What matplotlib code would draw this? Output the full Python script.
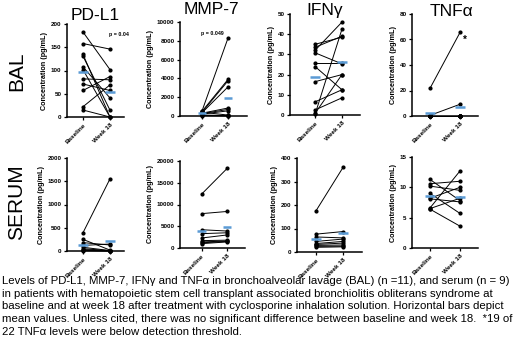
import numpy as np
import matplotlib
matplotlib.use("Agg")
import matplotlib.pyplot as plt

plt.rcParams['font.family'] = ['Liberation Sans', 'DejaVu Sans']

timepoints = ["Baseline", "Week 18"]

# BAL (n = 11), pairs: baseline -> week 18
bal_pdl1_base = [183, 158, 135, 131, 108, 102, 82, 71, 57, 22, 15]
bal_pdl1_wk18 = [102, 146, 0, 15, 41, 0, 80, 57, 87, 69, 0]

bal_mmp7_base = [550, 500, 400, 350, 300, 250, 200, 150, 100, 50, 400]
bal_mmp7_wk18 = [8300, 3900, 3750, 3100, 850, 700, 550, 150, 50, 0, 100]

bal_ifng_base = [35.0, 33.5, 32.0, 30.8, 25.7, 24.0, 16.5, 6.5, 2.5, 0.3, 0.8]
bal_ifng_wk18 = [38.5, 39.0, 46.0, 25.3, 25.7, 12.5, 20.0, 12.5, 8.5, 42.5, 20.0]

bal_tnfa_base = [21.7, 0.5, 0, 0, 0, 0, 0, 0, 0, 0, 0]
bal_tnfa_wk18 = [65.5, 9.2, 0, 0, 0, 0, 0, 0, 0, 0, 0]

# Serum (n = 9)
ser_pdl1_base = [390, 250, 180, 120, 80, 50, 30, 15, 5]
ser_pdl1_wk18 = [1550, 20, 130, 150, 10, 5, 5, 0, 0]

ser_mmp7_base = [12400, 7900, 4200, 3300, 2300, 1700, 1400, 1200, 1000]
ser_mmp7_wk18 = [18300, 8400, 3900, 3500, 3000, 1800, 1600, 1500, 1400]

ser_ifng_base = [175, 76, 64, 45, 36, 32, 28, 24, 20]
ser_ifng_wk18 = [360, 87, 60, 55, 45, 38, 30, 25, 22]

ser_tnfa_base = [11.3, 10.6, 10.2, 9.0, 8.2, 8.1, 6.6, 6.4, 6.5]
ser_tnfa_wk18 = [7.8, 11.0, 9.5, 5.7, 10.0, 7.6, 12.7, 3.6, 8.2]

W, H = 520, 355
fig = plt.figure(figsize=(W / 100, H / 100), dpi=100)

mean_color = '#5b9bd5'


def panel(box, base, wk, yticks, xlim):
    # box in pixels: left, right, top, bottom
    l, r, t, b = box
    ax = fig.add_axes([l / W, 1 - b / H, (r - l) / W, (b - t) / H])
    for y0, y1 in zip(base, wk):
        ax.plot([0, 1], [y0, y1], '-o', color='black', lw=0.7, ms=2.0, clip_on=False)
    for xi, vals in enumerate([base, wk]):
        m = np.mean(vals)
        ax.plot([xi - 0.17, xi + 0.17], [m, m], color=mean_color, lw=1.8,
                solid_capstyle='butt', zorder=5, clip_on=False)
    ax.set_xlim(*xlim)
    ax.set_ylim(yticks[0], yticks[-1])
    ax.set_yticks(yticks)
    ax.set_yticklabels([str(v) for v in yticks], fontsize=4.5, fontweight='bold')
    ax.set_xticks([0, 1])
    ax.set_xticklabels(timepoints, fontsize=4.6, fontweight='bold', rotation=45,
                       ha='right', rotation_mode='anchor')
    ax.set_ylabel("Concentration (pg/mL)", fontsize=5.2, fontweight='bold', labelpad=2)
    for s in ['top', 'right']:
        ax.spines[s].set_visible(False)
    for s in ['left', 'bottom']:
        ax.spines[s].set_linewidth(1.1)
    ax.tick_params(length=2.5, width=0.9, pad=1.5)
    ax.patch.set_alpha(0)
    return ax


a1 = panel((67, 124, 24, 117), bal_pdl1_base, bal_pdl1_wk18, list(range(0, 201, 50)), (-0.59, 1.52))
a2 = panel((180, 247, 22, 116), bal_mmp7_base, bal_mmp7_wk18, list(range(0, 10001, 2000)), (-0.85, 1.73))
a3 = panel((290, 360, 14, 115), bal_ifng_base, bal_ifng_wk18, list(range(0, 51, 10)), (-0.93, 1.67))
a4 = panel((412, 478, 14, 116), bal_tnfa_base, bal_tnfa_wk18, list(range(0, 81, 20)), (-0.6, 1.6))

b1 = panel((67, 124, 158, 251), ser_pdl1_base, ser_pdl1_wk18, list(range(0, 2001, 500)), (-0.59, 1.52))
b2 = panel((180, 245, 161, 248), ser_mmp7_base, ser_mmp7_wk18, list(range(0, 20001, 5000)), (-0.85, 1.7))
b3 = panel((297, 362, 158, 252), ser_ifng_base, ser_ifng_wk18, list(range(0, 401, 100)), (-0.7, 1.7))
b4 = panel((412, 478, 157, 248), ser_tnfa_base, ser_tnfa_wk18, list(range(0, 16, 5)), (-0.6, 1.6))

a1.text(0.95, 178, "p = 0.04", fontsize=3.8, fontweight='bold', ha='left', va='center')
a2.text(-0.05, 8800, "p = 0.049", fontsize=3.8, fontweight='bold', ha='left', va='center')
a4.text(1.15, 60, "*", fontsize=7, fontweight='bold', ha='center', va='center')

# column titles
for txt, x, y in [("PD-L1", 95, 16), ("MMP-7", 211, 10), ("IFNγ", 325, 10), ("TNFα", 451, 11)]:
    fig.text(x / W, 1 - y / H, txt, fontsize=12.5, ha='center', va='center')

# row labels
fig.text(17 / W, 1 - 71 / H, "BAL", fontsize=15, rotation=90, ha='center', va='center')
fig.text(17 / W, 1 - 202 / H, "SERUM", fontsize=15, rotation=90, ha='center', va='center')

caption = ("Levels of PD-L1, MMP-7, IFNγ and TNFα in bronchoalveolar lavage (BAL) (n =11), and serum (n = 9)\n"
           "in patients with hematopoietic stem cell transplant associated bronchiolitis obliterans syndrome at\n"
           "baseline and at week 18 after treatment with cyclosporine inhalation solution. Horizontal bars depict\n"
           "mean values. Unless cited, there was no significant difference between baseline and week 18.  *19 of\n"
           "22 TNFα levels were below detection threshold.")
fig.text(2 / W, 1 - 276 / H, caption, fontsize=8.2, ha='left', va='top', linespacing=1.33)

fig.savefig("out.png", dpi=100)
